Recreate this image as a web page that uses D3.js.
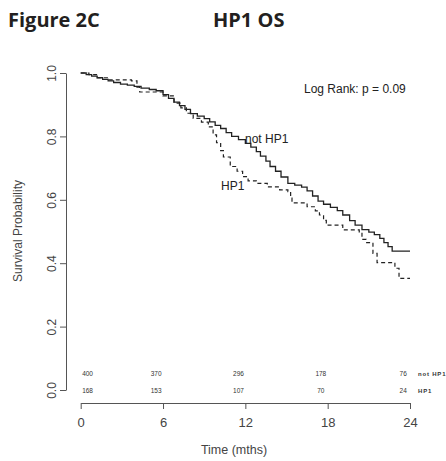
<!DOCTYPE html>
<html>
<head>
<meta charset="utf-8">
<script src="https://cdn.jsdelivr.net/npm/d3@7"></script>
<style>
  body { margin: 0; background: #fff; }
  text { font-family: "Liberation Sans", Arial, sans-serif; fill: #333; }
</style>
</head>
<body>
<script>
// Kaplan-Meier curves (time in months, survival prob.)
const notHp1Times = [0, 0.4, 0.8, 1.2, 1.6, 2.0, 2.4, 2.9, 3.4, 3.9, 4.4, 5.0, 5.5, 6.0, 6.4, 6.8, 7.2, 7.6, 8.0, 8.5, 9.0, 9.4, 9.8, 10.2, 10.6, 11.0, 11.5, 12.0, 12.4, 12.8, 13.1, 13.5, 13.8, 14.2, 14.6, 15.1, 15.6, 16.1, 16.5, 16.9, 17.3, 17.7, 18.2, 18.7, 19.1, 19.6, 20.0, 20.5, 21.0, 21.4, 21.8, 22.1, 22.4, 22.7]
const notHp1Surv  = [1.0, 0.995, 0.99, 0.985, 0.98, 0.975, 0.97, 0.965, 0.962, 0.958, 0.952, 0.948, 0.944, 0.932, 0.92, 0.908, 0.897, 0.885, 0.872, 0.864, 0.856, 0.846, 0.835, 0.825, 0.812, 0.8, 0.79, 0.778, 0.766, 0.752, 0.738, 0.722, 0.705, 0.69, 0.672, 0.652, 0.646, 0.64, 0.628, 0.612, 0.596, 0.586, 0.576, 0.566, 0.552, 0.534, 0.52, 0.506, 0.498, 0.49, 0.478, 0.465, 0.452, 0.438]

const hp1Times = [0, 0.6, 1.2, 2.0, 3.7, 4.1, 4.3, 5.5, 6.0, 6.8, 7.3, 7.7, 8.2, 8.8, 9.3, 9.65, 9.9, 10.2, 10.4, 10.9, 11.4, 11.8, 12.2, 12.8, 13.6, 14.5, 15.1, 15.3, 15.4, 16.5, 17.1, 17.4, 17.7, 17.9, 19.1, 20.3, 20.5, 20.8, 21.3, 21.6, 22.9, 23.2]
const hp1Surv  = [1.0, 0.995, 0.985, 0.978, 0.975, 0.955, 0.94, 0.94, 0.928, 0.905, 0.89, 0.873, 0.857, 0.845, 0.83, 0.805, 0.78, 0.755, 0.735, 0.705, 0.69, 0.673, 0.66, 0.652, 0.641, 0.631, 0.626, 0.605, 0.59, 0.578, 0.565, 0.552, 0.535, 0.52, 0.505, 0.499, 0.475, 0.465, 0.431, 0.402, 0.384, 0.352]

const endTime = 24
const xTicks = [0, 6, 12, 18, 24]
const yTicks = [0, 0.2, 0.4, 0.6, 0.8, 1.0]

// numbers at risk
const riskTimes = [0.5, 5.5, 11.5, 17.5, 23.5]
const riskNotHp1 = [400, 370, 296, 178, 76]
const riskHp1 = [168, 153, 107, 70, 24]

const m = { width: 446, height: 461 }

const svg = d3.select('body').append('svg')
    .attr('width', m.width)
    .attr('height', m.height)

const x = d3.scaleLinear().domain([0, 24]).range([80.7, 410])
const y = d3.scaleLinear().domain([0, 1]).range([390, 73])

// titles
svg.append('text')
    .attr('x', 8).attr('y', 27)
    .style('font-family', '"Open Sans", sans-serif')
    .style('font-weight', 'bold')
    .style('font-size', '20px')
    .style('fill', '#231f20')
    .text('Figure 2C')

svg.append('text')
    .attr('x', 213).attr('y', 27)
    .style('font-family', '"Open Sans", sans-serif')
    .style('font-weight', 'bold')
    .style('font-size', '20px')
    .style('fill', '#231f20')
    .text('HP1 OS')

// y axis
const yAxis = svg.append('g')
    .attr('transform', 'translate(66,0)')
    .call(d3.axisLeft(y).tickValues(yTicks).tickSize(6).tickSizeOuter(0).tickFormat(d3.format('.1f')))
yAxis.select('.domain').attr('stroke', '#555')
yAxis.selectAll('.tick line').attr('stroke', '#555')
yAxis.selectAll('.tick text')
    .attr('transform', 'rotate(-90)')
    .attr('x', 0).attr('y', -10).attr('dy', 0)
    .attr('text-anchor', 'middle')
    .style('font-size', '12px')
    .style('fill', '#444')

// x axis
const xAxis = svg.append('g')
    .attr('transform', 'translate(0,403)')
    .call(d3.axisBottom(x).tickValues(xTicks).tickSize(6).tickSizeOuter(0).tickPadding(9))
xAxis.select('.domain').attr('stroke', '#555')
xAxis.selectAll('.tick line').attr('stroke', '#555')
xAxis.selectAll('.tick text')
    .style('font-size', '13px')
    .style('fill', '#444')

// axis titles
svg.append('text')
    .attr('transform', 'translate(22,231) rotate(-90)')
    .attr('text-anchor', 'middle')
    .style('font-size', '12px')
    .style('fill', '#444')
    .text('Survival Probability')

svg.append('text')
    .attr('x', 234).attr('y', 454)
    .attr('text-anchor', 'middle')
    .style('font-size', '12.5px')
    .style('fill', '#444')
    .text('Time (mths)')

// survival curves
const line = d3.line()
    .x(d => x(d[0]))
    .y(d => y(d[1]))
    .curve(d3.curveStepAfter)

function curvePoints(times, surv) {
    const pts = times.map((t, i) => [t, surv[i]])
    pts.push([endTime, surv[surv.length - 1]])
    return pts
}

svg.append('path')
    .attr('d', line(curvePoints(hp1Times, hp1Surv)))
    .attr('fill', 'none')
    .attr('stroke', '#222')
    .attr('stroke-width', 1.2)
    .attr('stroke-dasharray', '4,3')

svg.append('path')
    .attr('d', line(curvePoints(notHp1Times, notHp1Surv)))
    .attr('fill', 'none')
    .attr('stroke', '#222')
    .attr('stroke-width', 1.3)

// curve labels
svg.append('text')
    .attr('x', 245).attr('y', 143)
    .style('font-size', '12px')
    .style('fill', '#222')
    .text('not HP1')

svg.append('text')
    .attr('x', 221).attr('y', 190)
    .style('font-size', '12px')
    .style('fill', '#222')
    .text('HP1')

svg.append('text')
    .attr('x', 304).attr('y', 93)
    .style('font-size', '12px')
    .style('fill', '#222')
    .text('Log Rank: p = 0.09')

// numbers at risk
svg.selectAll('.risk1')
    .data(riskNotHp1)
    .enter()
    .append('text')
        .attr('class', 'risk1')
        .attr('x', (d, i) => x(riskTimes[i]))
        .attr('y', 376)
        .attr('text-anchor', 'middle')
        .style('font-size', '6.5px')
        .style('fill', '#333')
        .text(d => d)

svg.selectAll('.risk2')
    .data(riskHp1)
    .enter()
    .append('text')
        .attr('class', 'risk2')
        .attr('x', (d, i) => x(riskTimes[i]))
        .attr('y', 393)
        .attr('text-anchor', 'middle')
        .style('font-size', '6.5px')
        .style('fill', '#333')
        .text(d => d)

svg.append('text')
    .attr('x', 418).attr('y', 376)
    .style('font-size', '6px')
    .style('font-weight', 'bold')
    .style('letter-spacing', '0.8px')
    .style('fill', '#333')
    .text('not HP1')

svg.append('text')
    .attr('x', 418).attr('y', 393)
    .style('font-size', '6px')
    .style('font-weight', 'bold')
    .style('letter-spacing', '0.8px')
    .style('fill', '#333')
    .text('HP1')
</script>
</body>
</html>
